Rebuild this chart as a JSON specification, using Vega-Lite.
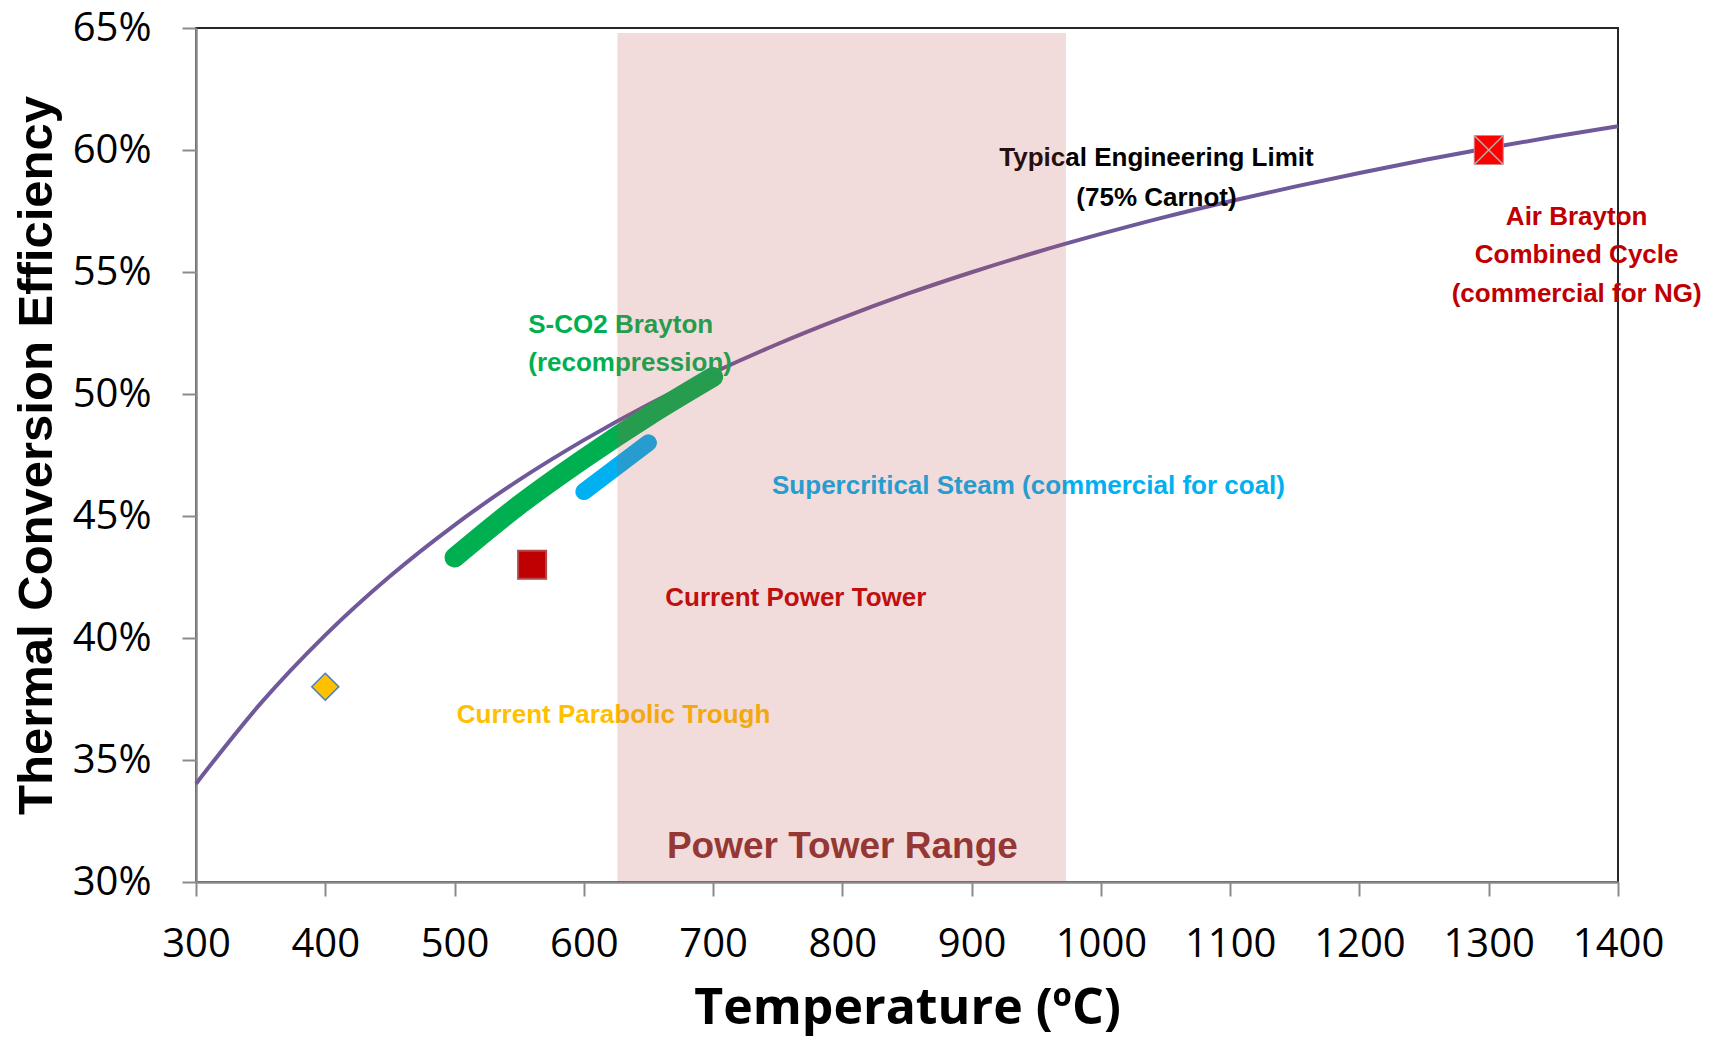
{
  "$schema": "https://vega.github.io/schema/vega-lite/v6.json",
  "width": 1422,
  "height": 854,
  "autosize": {"type": "none"},
  "padding": {"left": 196, "top": 28, "right": 98, "bottom": 156},
  "background": "white",
  "config": {
    "view": {"stroke": "#262626", "strokeWidth": 2},
    "axis": {
      "domainColor": "#8a8a8a",
      "domainWidth": 2.5,
      "tickColor": "#8a8a8a",
      "tickWidth": 2,
      "tickSize": 14,
      "labelFont": "Open Sans",
      "labelFontSize": 40,
      "labelColor": "#000000",
      "titleColor": "#000000",
      "grid": false,
      "zindex": 1
    }
  },
  "encoding": {
    "x": {
      "field": "t",
      "type": "quantitative",
      "scale": {"domain": [300, 1400], "nice": false, "zero": false},
      "axis": {
        "values": [300, 400, 500, 600, 700, 800, 900, 1000, 1100, 1200, 1300, 1400],
        "format": "d",
        "title": "Temperature (ºC)",
        "titleFont": "Open Sans",
        "titleFontSize": 50,
        "titleFontWeight": "bold",
        "titleBaseline": "middle",
        "titleY": 126,
        "labelPadding": 28,
        "labelFlush": false
      }
    },
    "y": {
      "field": "eff",
      "type": "quantitative",
      "scale": {"domain": [0.3, 0.65], "nice": false, "zero": false},
      "axis": {
        "values": [0.3, 0.35, 0.4, 0.45, 0.5, 0.55, 0.6, 0.65],
        "format": ".0%",
        "title": "Thermal Conversion Efficiency",
        "titleFont": "Liberation Sans",
        "titleFontSize": 49,
        "titleFontWeight": "bold",
        "titleBaseline": "middle",
        "titleAlign": "center",
        "titleX": -160,
        "titleY": 427,
        "labelPadding": 31,
        "labelFlush": false
      }
    }
  },
  "layer": [
    {
      "data": {"values": [
        {"t": 300, "eff": 0.3403}, {"t": 350, "eff": 0.3732}, {"t": 400, "eff": 0.4012},
        {"t": 450, "eff": 0.4253}, {"t": 500, "eff": 0.4463}, {"t": 550, "eff": 0.4648},
        {"t": 600, "eff": 0.4811}, {"t": 650, "eff": 0.4957}, {"t": 700, "eff": 0.5087},
        {"t": 750, "eff": 0.5205}, {"t": 800, "eff": 0.5312}, {"t": 850, "eff": 0.541},
        {"t": 900, "eff": 0.5499}, {"t": 950, "eff": 0.5581}, {"t": 1000, "eff": 0.5656},
        {"t": 1050, "eff": 0.5726}, {"t": 1100, "eff": 0.579}, {"t": 1150, "eff": 0.585},
        {"t": 1200, "eff": 0.5906}, {"t": 1250, "eff": 0.5959}, {"t": 1300, "eff": 0.6008},
        {"t": 1350, "eff": 0.6054}, {"t": 1400, "eff": 0.6097}
      ]},
      "mark": {"type": "line", "color": "#70599b", "strokeWidth": 4, "interpolate": "monotone"}
    },
    {
      "data": {"values": [
        {"t": 500, "eff": 0.433}, {"t": 550, "eff": 0.4545}, {"t": 600, "eff": 0.4735},
        {"t": 650, "eff": 0.491}, {"t": 700, "eff": 0.507}
      ]},
      "mark": {"type": "line", "color": "#00b050", "strokeWidth": 20, "strokeCap": "round", "interpolate": "monotone"}
    },
    {
      "data": {"values": [{"t": 600, "eff": 0.46}, {"t": 650, "eff": 0.48}]},
      "mark": {"type": "line", "color": "#00b0f0", "strokeWidth": 17, "strokeCap": "round"}
    },
    {
      "data": {"values": [{"t": 400, "eff": 0.38}]},
      "mark": {"type": "point", "shape": "diamond", "size": 729, "filled": true, "fill": "#ffc000", "fillOpacity": 1, "stroke": "#4a7ebb", "strokeWidth": 1.5, "opacity": 1}
    },
    {
      "data": {"values": [{"t": 560, "eff": 0.43}]},
      "mark": {"type": "point", "shape": "square", "size": 784, "filled": true, "fill": "#c00000", "fillOpacity": 1, "stroke": "#b04a4a", "strokeWidth": 2, "opacity": 1}
    },
    {
      "data": {"values": [{"t": 1300, "eff": 0.6}]},
      "mark": {"type": "point", "shape": "square", "size": 841, "filled": true, "fill": "#ff0000", "fillOpacity": 1, "stroke": "#e08080", "strokeWidth": 1, "opacity": 1}
    },
    {
      "data": {"values": [{"t": 1300, "eff": 0.6}]},
      "mark": {"type": "point", "shape": "M-1,-1L1,1M-1,1L1,-1", "size": 841, "filled": false, "stroke": "#b0b0b0", "strokeWidth": 1.5, "opacity": 1}
    },
    {
      "data": {"values": [
        {"t": 1043, "eff": 0.5968, "label": "Typical Engineering Limit"},
        {"t": 1043, "eff": 0.5805, "label": "(75% Carnot)"}
      ]},
      "mark": {"type": "text", "font": "Liberation Sans", "fontSize": 26, "fontWeight": "bold", "color": "#000000", "align": "center", "baseline": "middle"},
      "encoding": {"text": {"field": "label"}}
    },
    {
      "data": {"values": [
        {"t": 1368, "eff": 0.5725, "label": "Air Brayton"},
        {"t": 1368, "eff": 0.5568, "label": "Combined Cycle"},
        {"t": 1368, "eff": 0.5411, "label": "(commercial for NG)"}
      ]},
      "mark": {"type": "text", "font": "Liberation Sans", "fontSize": 26, "fontWeight": "bold", "color": "#c00000", "align": "center", "baseline": "middle"},
      "encoding": {"text": {"field": "label"}}
    },
    {
      "data": {"values": [
        {"t": 557, "eff": 0.5281, "label": "S-CO2 Brayton"},
        {"t": 557, "eff": 0.5128, "label": "(recompression)"}
      ]},
      "mark": {"type": "text", "font": "Liberation Sans", "fontSize": 26, "fontWeight": "bold", "color": "#00b050", "align": "left", "baseline": "middle"},
      "encoding": {"text": {"field": "label"}}
    },
    {
      "data": {"values": [{"t": 944, "eff": 0.4622, "label": "Supercritical Steam (commercial for coal)"}]},
      "mark": {"type": "text", "font": "Liberation Sans", "fontSize": 26, "fontWeight": "bold", "color": "#00b0f0", "align": "center", "baseline": "middle"},
      "encoding": {"text": {"field": "label"}}
    },
    {
      "data": {"values": [{"t": 764, "eff": 0.4165, "label": "Current Power Tower"}]},
      "mark": {"type": "text", "font": "Liberation Sans", "fontSize": 26, "fontWeight": "bold", "color": "#c00000", "align": "center", "baseline": "middle"},
      "encoding": {"text": {"field": "label"}}
    },
    {
      "data": {"values": [{"t": 623, "eff": 0.3683, "label": "Current Parabolic Trough"}]},
      "mark": {"type": "text", "font": "Liberation Sans", "fontSize": 26, "fontWeight": "bold", "color": "#ffc000", "align": "center", "baseline": "middle"},
      "encoding": {"text": {"field": "label"}}
    },
    {
      "data": {"values": [{"t": 626, "t_end": 973, "eff": 0.3, "eff_top": 0.648}]},
      "mark": {"type": "rect", "color": "#c0504d", "opacity": 0.2},
      "encoding": {"x2": {"field": "t_end"}, "y2": {"field": "eff_top"}}
    },
    {
      "data": {"values": [{"t": 800, "eff": 0.3145, "label": "Power Tower Range"}]},
      "mark": {"type": "text", "font": "Liberation Sans", "fontSize": 37, "fontWeight": "bold", "color": "#953735", "align": "center", "baseline": "middle"},
      "encoding": {"text": {"field": "label"}}
    }
  ]
}
